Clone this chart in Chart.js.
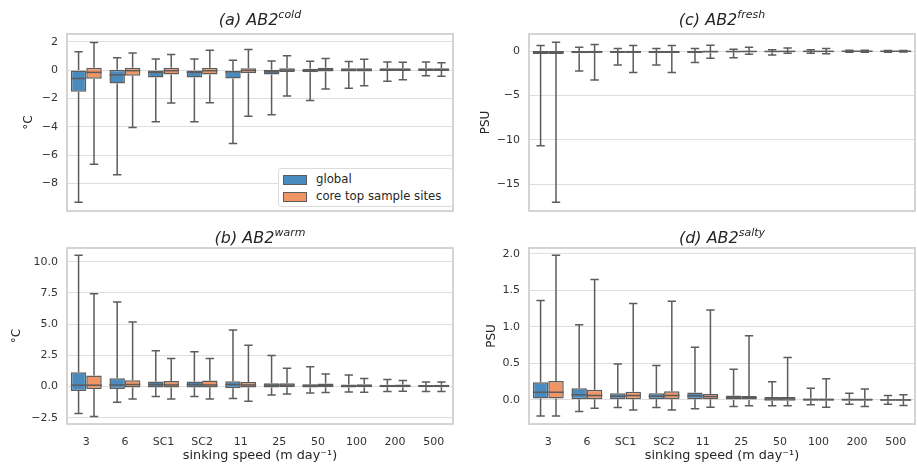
<!DOCTYPE html>
<html>
<head>
<meta charset="utf-8">
<script src="https://cdn.jsdelivr.net/npm/chart.js@4.4.1/dist/chart.umd.min.js"></script>
<style>
  body { margin: 0; background: #fff; font-family: "DejaVu Sans", sans-serif; }
  #wrap { position: relative; width: 917px; height: 464px; overflow: hidden; }
  canvas { position: absolute; }
  .title { position: absolute; transform: translate(-50%, -50%); font-size: 16px; font-style: italic;
           color: #262626; white-space: nowrap; line-height: 1; }
  .title sup { font-size: 11px; vertical-align: 7px; }
  #legend { position: absolute; left: 278px; top: 168px; width: 173px; height: 37px; background: #fff;
            border: 1px solid #dcdcdc; border-radius: 3px; font-size: 11.7px; color: #262626; }
  .item { position: absolute; left: 4px; height: 12px; line-height: 12px; white-space: nowrap; }
  .patch { display: inline-block; width: 22px; height: 8px; border: 1px solid #5c5c5c; vertical-align: middle; margin-right: 9px; }
</style>
</head>
<body>
<div id="wrap">
  <canvas id="cA" width="458" height="190" style="left:0;top:26px"></canvas>
  <canvas id="cC" width="455" height="190" style="left:462px;top:26px"></canvas>
  <canvas id="cB" width="458" height="228" style="left:0;top:236px"></canvas>
  <canvas id="cD" width="455" height="228" style="left:462px;top:236px"></canvas>
  <div class="title" style="left:260px;top:18px">(a) AB2<sup>cold</sup></div>
  <div class="title" style="left:722px;top:18px">(c) AB2<sup>fresh</sup></div>
  <div class="title" style="left:260px;top:236px">(b) AB2<sup>warm</sup></div>
  <div class="title" style="left:722px;top:236px">(d) AB2<sup>salty</sup></div>
  <div id="legend">
    <div class="item" style="top:4px"><span class="patch" style="background:#4a8bbf"></span>global</div>
    <div class="item" style="top:21px"><span class="patch" style="background:#ef9566"></span>core top sample sites</div>
  </div>
</div>
<script>
// sinking speed categories
const categories = ['3', '6', 'SC1', 'SC2', '11', '25', '50', '100', '200', '500'];

// each entry: [lower whisker, q1, median, q3, upper whisker]
const coldGlobal = [
    [-9.34, -1.53, -0.59, 0.0, 1.29],
    [-7.39, -0.94, -0.33, 0.02, 0.87],
    [-3.65, -0.52, -0.16, 0.0, 0.78],
    [-3.65, -0.52, -0.16, 0.0, 0.78],
    [-5.18, -0.59, -0.12, -0.04, 0.7],
    [-3.15, -0.31, -0.12, 0.02, 0.64],
    [-2.14, -0.16, -0.03, 0.09, 0.62],
    [-1.29, -0.09, 0.02, 0.14, 0.6],
    [-0.78, -0.07, 0.03, 0.13, 0.58],
    [-0.4, -0.07, 0.03, 0.13, 0.58]
];
const coldCore = [
    [-6.64, -0.61, -0.16, 0.16, 1.95],
    [-4.05, -0.4, -0.04, 0.16, 1.2],
    [-2.33, -0.31, -0.04, 0.16, 1.1],
    [-2.3, -0.31, -0.04, 0.16, 1.41],
    [-3.25, -0.23, -0.03, 0.14, 1.46],
    [-1.83, -0.14, 0.0, 0.14, 1.01],
    [-1.34, -0.09, 0.05, 0.16, 0.82],
    [-1.1, -0.09, 0.03, 0.14, 0.77],
    [-0.68, -0.07, 0.03, 0.13, 0.55],
    [-0.43, -0.07, 0.03, 0.13, 0.52]
];
const warmGlobal = [
    [-2.16, -0.35, 0.11, 1.15, 10.52],
    [-1.26, -0.19, 0.13, 0.67, 6.78],
    [-0.8, -0.08, 0.16, 0.4, 2.86],
    [-0.8, -0.08, 0.16, 0.4, 2.78],
    [-0.96, -0.13, 0.16, 0.43, 4.54],
    [-0.67, -0.08, 0.11, 0.27, 2.48],
    [-0.51, -0.08, 0.08, 0.19, 1.58],
    [-0.43, -0.08, 0.05, 0.16, 0.93],
    [-0.4, -0.06, 0.05, 0.14, 0.56],
    [-0.4, -0.06, 0.05, 0.13, 0.37]
];
const warmCore = [
    [-2.4, -0.19, 0.11, 0.88, 7.43],
    [-0.99, -0.08, 0.16, 0.51, 5.18],
    [-0.99, -0.08, 0.13, 0.45, 2.24],
    [-0.99, -0.08, 0.13, 0.48, 2.24],
    [-1.18, -0.08, 0.13, 0.37, 3.31],
    [-0.59, -0.05, 0.11, 0.27, 1.47],
    [-0.48, -0.05, 0.1, 0.24, 1.01],
    [-0.45, -0.06, 0.06, 0.19, 0.64],
    [-0.37, -0.05, 0.06, 0.16, 0.48],
    [-0.4, -0.05, 0.06, 0.14, 0.37]
];
const freshGlobal = [
    [-10.69, -0.3, -0.1, 0.03, 0.64],
    [-2.22, -0.23, -0.06, 0.03, 0.45],
    [-1.55, -0.2, -0.05, 0.03, 0.3],
    [-1.55, -0.2, -0.05, 0.03, 0.3],
    [-1.28, -0.2, -0.05, 0.03, 0.3],
    [-0.72, -0.12, -0.03, 0.03, 0.22],
    [-0.42, -0.1, -0.02, 0.03, 0.18],
    [-0.23, -0.08, -0.01, 0.03, 0.18],
    [-0.12, -0.05, 0.0, 0.03, 0.1],
    [-0.1, -0.04, 0.0, 0.03, 0.08]
];
const freshCore = [
    [-17.06, -0.3, -0.12, 0.03, 1.01],
    [-3.24, -0.2, -0.05, 0.03, 0.75],
    [-2.41, -0.2, -0.05, 0.03, 0.64],
    [-2.41, -0.2, -0.05, 0.03, 0.64],
    [-0.79, -0.15, -0.03, 0.03, 0.67],
    [-0.34, -0.1, -0.02, 0.03, 0.45],
    [-0.23, -0.08, -0.01, 0.03, 0.37],
    [-0.27, -0.08, -0.01, 0.03, 0.3],
    [-0.1, -0.05, 0.0, 0.03, 0.12],
    [-0.08, -0.04, 0.0, 0.03, 0.08]
];
const saltyGlobal = [
    [-0.22, 0.02, 0.105, 0.24, 1.36],
    [-0.16, 0.01, 0.07, 0.16, 1.03],
    [-0.105, 0.01, 0.05, 0.09, 0.49],
    [-0.105, 0.01, 0.05, 0.09, 0.47],
    [-0.12, 0.01, 0.055, 0.1, 0.72],
    [-0.09, 0.0, 0.03, 0.06, 0.42],
    [-0.08, -0.01, 0.015, 0.04, 0.25],
    [-0.065, -0.01, 0.005, 0.02, 0.16],
    [-0.06, -0.01, 0.005, 0.015, 0.09],
    [-0.06, -0.01, 0.0, 0.01, 0.06]
];
const saltyCore = [
    [-0.22, 0.02, 0.105, 0.26, 1.98],
    [-0.115, 0.01, 0.06, 0.14, 1.65],
    [-0.14, 0.01, 0.06, 0.11, 1.32],
    [-0.14, 0.01, 0.06, 0.12, 1.35],
    [-0.1, 0.01, 0.045, 0.08, 1.23],
    [-0.08, 0.0, 0.03, 0.055, 0.88],
    [-0.08, -0.01, 0.015, 0.04, 0.58],
    [-0.1, -0.01, 0.005, 0.02, 0.29],
    [-0.09, -0.01, 0.005, 0.015, 0.15],
    [-0.075, -0.01, 0.0, 0.01, 0.07]
];

// y tick values per panel
const ticksCold = [-8, -6, -4, -2, 0, 2];
const ticksWarm = [-2.5, 0, 2.5, 5, 7.5, 10];
const ticksFresh = [-15, -10, -5, 0];
const ticksSalty = [0, 0.5, 1, 1.5, 2];

const BLUE = '#4a8bbf';
const ORANGE = '#ef9566';
const EDGE = '#5c5c5c';
const GRID = '#dedede';
const FONT = 'DejaVu Sans';

// whiskers under the boxes, medians on top
const boxWhiskers = {
    id: 'boxWhiskers',
    beforeDatasetsDraw(chart) {
        const ctx = chart.ctx, y = chart.scales.y;
        ctx.save();
        ctx.strokeStyle = EDGE;
        ctx.lineWidth = 1.5;
        chart.data.datasets.forEach((ds, i) => {
            chart.getDatasetMeta(i).data.forEach((bar, j) => {
                const [lo, q1, med, q3, hi] = ds.stats[j];
                const cap = bar.width * 0.27;
                const yLo = y.getPixelForValue(lo), yHi = y.getPixelForValue(hi);
                ctx.beginPath();
                ctx.moveTo(bar.x, yHi); ctx.lineTo(bar.x, y.getPixelForValue(q3));
                ctx.moveTo(bar.x, y.getPixelForValue(q1)); ctx.lineTo(bar.x, yLo);
                ctx.moveTo(bar.x - cap, yHi); ctx.lineTo(bar.x + cap, yHi);
                ctx.moveTo(bar.x - cap, yLo); ctx.lineTo(bar.x + cap, yLo);
                ctx.stroke();
            });
        });
        ctx.restore();
    },
    afterDatasetsDraw(chart) {
        const ctx = chart.ctx, y = chart.scales.y;
        ctx.save();
        ctx.strokeStyle = EDGE;
        ctx.lineWidth = 1.5;
        chart.data.datasets.forEach((ds, i) => {
            chart.getDatasetMeta(i).data.forEach((bar, j) => {
                const py = y.getPixelForValue(ds.stats[j][2]);
                ctx.beginPath();
                ctx.moveTo(bar.x - bar.width / 2, py);
                ctx.lineTo(bar.x + bar.width / 2, py);
                ctx.stroke();
            });
        });
        ctx.restore();
    }
};

// light grey frame round the plot area
const frame = {
    id: 'frame',
    afterDraw(chart) {
        const { ctx, chartArea: a } = chart;
        ctx.save();
        ctx.strokeStyle = '#d4d4d4';
        ctx.lineWidth = 2;
        ctx.strokeRect(a.left, a.top, a.right - a.left, a.bottom - a.top);
        ctx.restore();
    }
};

function fmt(v, dec) {
    return v.toFixed(dec).replace('-', '\u2212');
}

function buildPanel(id, p) {
    const ctx = document.getElementById(id).getContext('2d');
    const boxSet = (label, stats, color) => ({
        label: label,
        data: stats.map(s => [s[1], s[3]]),
        stats: stats,
        backgroundColor: color,
        borderColor: EDGE,
        borderWidth: 1.5,
        borderSkipped: false,
        categoryPercentage: 0.8,
        barPercentage: 1.0
    });
    return new Chart(ctx, {
        type: 'bar',
        data: {
            labels: categories,
            datasets: [
                boxSet('global', p.global, BLUE),
                boxSet('core top sample sites', p.core, ORANGE)
            ]
        },
        options: {
            responsive: false,
            animation: false,
            layout: { padding: { top: p.padTop, right: p.padRight, left: 0, bottom: 0 } },
            plugins: { legend: { display: false }, tooltip: { enabled: false } },
            scales: {
                x: {
                    grid: { display: false },
                    border: { display: false },
                    ticks: { display: p.showX, color: '#333', font: { family: FONT, size: 11 }, padding: 4 },
                    title: {
                        display: p.showX, text: 'sinking speed (m day\u207B\u00B9)', color: '#262626',
                        font: { family: FONT, size: 12.8 }, padding: { top: 0, bottom: 1 }
                    },
                    afterFit: s => {
                        s.height = p.xHeight;
                        s.paddingLeft = 0;
                        s.paddingRight = 0;
                    }
                },
                y: {
                    min: p.range[0],
                    max: p.range[1],
                    grid: { color: GRID, lineWidth: 1, drawTicks: false },
                    border: { display: false },
                    ticks: {
                        color: '#333', font: { family: FONT, size: 11 }, padding: 9,
                        callback: v => fmt(v, p.dec)
                    },
                    afterBuildTicks: s => { s.ticks = p.ticks.map(v => ({ value: v })); },
                    title: {
                        display: true, text: p.unit, color: '#262626',
                        font: { family: FONT, size: 12 }, padding: { top: p.titlePad, bottom: 0 }
                    },
                    afterFit: s => {
                        s.width = 67;
                        s.paddingTop = 0;
                        s.paddingBottom = 0;
                    }
                }
            }
        },
        plugins: [boxWhiskers, frame]
    });
}

window.onload = function () {
    buildPanel('cA', { global: coldGlobal, core: coldCore, range: [-9.95, 2.55], ticks: ticksCold, dec: 0,
        unit: '\u00B0C', titlePad: 22, padTop: 8, padRight: 5, showX: false, xHeight: 5 });
    buildPanel('cC', { global: freshGlobal, core: freshCore, range: [-18.05, 1.95], ticks: ticksFresh, dec: 0,
        unit: 'PSU', titlePad: 17, padTop: 8, padRight: 2, showX: false, xHeight: 5 });
    buildPanel('cB', { global: warmGlobal, core: warmCore, range: [-3.0, 11.1], ticks: ticksWarm, dec: 1,
        unit: '\u00B0C', titlePad: 10, padTop: 12, padRight: 5, showX: true, xHeight: 40 });
    buildPanel('cD', { global: saltyGlobal, core: saltyCore, range: [-0.33, 2.08], ticks: ticksSalty, dec: 1,
        unit: 'PSU', titlePad: 23, padTop: 12, padRight: 2, showX: true, xHeight: 40 });
};
</script>
</body>
</html>
